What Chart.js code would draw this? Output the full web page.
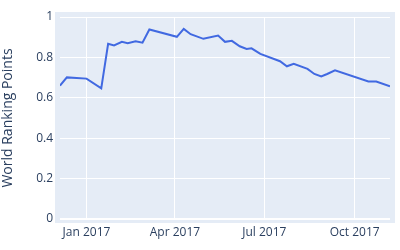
<!DOCTYPE html>
<html>
<head>
<meta charset="utf-8">
<script src="https://cdn.jsdelivr.net/npm/chart.js@4/dist/chart.umd.min.js"></script>
<style>
    body { margin: 0; background: #fff; }
    #chartWrapper { width: 400px; height: 250px; }
</style>
</head>
<body>
<div id="chartWrapper"><canvas id="rankChart" width="400" height="250"></canvas></div>
<script>
var dates = [
    '2016-12-05', '2016-12-12', '2017-01-01', '2017-01-16', '2017-01-23', '2017-01-29',
    '2017-02-06', '2017-02-12', '2017-02-20', '2017-02-27', '2017-03-06', '2017-04-03',
    '2017-04-10', '2017-04-17', '2017-04-30', '2017-05-15', '2017-05-22', '2017-05-29',
    '2017-06-06', '2017-06-13', '2017-06-18', '2017-06-27', '2017-07-17', '2017-07-24',
    '2017-07-31', '2017-08-14', '2017-08-21', '2017-08-28', '2017-09-03', '2017-09-11',
    '2017-10-15', '2017-10-23', '2017-11-06'
];
var points = [
    0.660, 0.701, 0.695, 0.647, 0.867, 0.859,
    0.877, 0.870, 0.880, 0.873, 0.938, 0.902,
    0.941, 0.915, 0.892, 0.908, 0.877, 0.882,
    0.855, 0.842, 0.845, 0.817, 0.781, 0.756,
    0.768, 0.743, 0.718, 0.706, 0.718, 0.736,
    0.681, 0.681, 0.657
];
var tickDates = ['2017-01-01', '2017-04-01', '2017-07-01', '2017-10-01'];
var tickLabels = ['Jan 2017', 'Apr 2017', 'Jul 2017', 'Oct 2017'];

var DAY = 86400000;
var origin = Date.UTC(2017, 0, 1);

function toDay(s) {
    var p = s.split('-');
    return (Date.UTC(+p[0], +p[1] - 1, +p[2]) - origin) / DAY;
}

var tickDays = tickDates.map(toDay);
var series = dates.map(function(d, i) {
    return { x: toDay(d), y: points[i] };
});

var textColor = '#2a3f5f';

var plotBackground = {
    id: 'plotBackground',
    beforeDraw: function(chart) {
        var a = chart.chartArea;
        var ctx = chart.ctx;
        ctx.save();
        ctx.fillStyle = '#E5ECF6';
        ctx.fillRect(a.left - 5, a.top - 5, a.right - a.left + 10, a.bottom - a.top + 9);
        ctx.restore();
    }
};

var config = {
    type: 'line',
    data: {
        datasets: [{
            label: 'World Ranking Points',
            data: series,
            borderColor: '#4169E1',
            borderWidth: 2,
            pointRadius: 0,
            tension: 0,
            fill: false
        }]
    },
    options: {
        responsive: false,
        animation: false,
        layout: { padding: { top: 17, right: 10, left: 0, bottom: 0 } },
        plugins: {
            legend: { display: false },
            tooltip: { enabled: false }
        },
        scales: {
            x: {
                type: 'linear',
                min: series[0].x,
                max: series[series.length - 1].x,
                afterFit: function(scale) { scale.height = 31; },
                afterBuildTicks: function(scale) {
                    scale.ticks = tickDays.map(function(d) { return { value: d }; });
                },
                grid: { color: '#ffffff', lineWidth: 1, drawTicks: false },
                border: { display: false },
                ticks: {
                    padding: 6,
                    maxRotation: 0,
                    autoSkip: false,
                    color: textColor,
                    font: { family: 'Open Sans', size: 12 },
                    callback: function(value) {
                        var i = tickDays.indexOf(value);
                        return i >= 0 ? tickLabels[i] : '';
                    }
                }
            },
            y: {
                min: 0,
                max: 1,
                afterFit: function(scale) { scale.width = 60; },
                grid: {
                    color: '#ffffff',
                    drawTicks: false,
                    lineWidth: function(c) { return c.tick && c.tick.value === 0 ? 2 : 1; }
                },
                border: { display: false },
                ticks: {
                    stepSize: 0.2,
                    padding: 7,
                    color: textColor,
                    font: { family: 'Open Sans', size: 12 },
                    callback: function(value) {
                        return String(Math.round(value * 10) / 10);
                    }
                },
                title: {
                    display: true,
                    text: 'World Ranking Points',
                    color: textColor,
                    padding: { top: 0, bottom: 0 },
                    font: { family: 'Open Sans', size: 14 }
                }
            }
        }
    },
    plugins: [plotBackground]
};

var rankChart = new Chart(document.getElementById('rankChart'), config);
</script>
</body>
</html>
